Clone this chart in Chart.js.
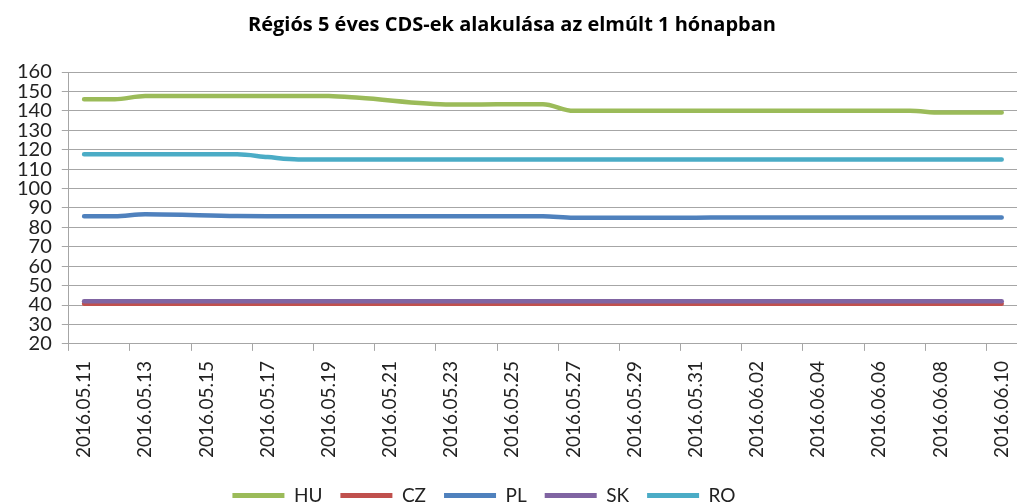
<!DOCTYPE html>
<html>
<head>
<title>Régiós CDS</title>
<script src="https://cdn.jsdelivr.net/npm/chart.js@4.4.0/dist/chart.umd.min.js"></script>
<style>
  html, body { margin: 0; padding: 0; background: #fff; }
  #wrap { width: 1017px; height: 504px; position: relative; }
</style>
</head>
<body>
<div id="wrap"><canvas id="myChart"></canvas></div>
<script>
// daily dates, weekends left empty (null) so the line spans them
var dates = ['2016.05.11','2016.05.12','2016.05.13','2016.05.14','2016.05.15','2016.05.16','2016.05.17',
  '2016.05.18','2016.05.19','2016.05.20','2016.05.21','2016.05.22','2016.05.23','2016.05.24','2016.05.25',
  '2016.05.26','2016.05.27','2016.05.28','2016.05.29','2016.05.30','2016.05.31','2016.06.01','2016.06.02',
  '2016.06.03','2016.06.04','2016.06.05','2016.06.06','2016.06.07','2016.06.08','2016.06.09','2016.06.10'];

var hu = [146, 146, 147.6, null, null, 147.6, 147.7, 147.7, 147.6, 146.7, null, null, 143.3, 143.3, 143.4,
  143.4, 140, null, null, 140, 140, 140, 140, 140, null, null, 140, 140, 139.1, 139.1, 139.1];
var cz = [40.7, 40.7, 40.7, null, null, 40.7, 40.7, 40.7, 40.7, 40.7, null, null, 40.7, 40.7, 40.7,
  40.7, 40.7, null, null, 40.7, 40.7, 40.7, 40.7, 40.7, null, null, 40.7, 40.7, 40.7, 40.7, 40.7];
var pl = [85.7, 85.7, 86.7, null, null, 85.8, 85.7, 85.7, 85.7, 85.7, null, null, 85.7, 85.7, 85.7,
  85.7, 85.0, null, null, 85.0, 85.0, 85.1, 85.1, 85.1, null, null, 85.1, 85.1, 85.1, 85.1, 85.1];
var sk = [41.9, 41.9, 41.9, null, null, 41.9, 41.9, 41.9, 41.9, 41.9, null, null, 41.9, 41.9, 41.9,
  41.9, 41.9, null, null, 41.9, 41.9, 41.9, 41.9, 41.9, null, null, 41.9, 41.9, 41.9, 41.9, 41.9];
var ro = [117.6, 117.6, 117.6, null, null, 117.6, 116.2, 115, 115, 115, null, null, 115, 115, 115,
  115, 115, null, null, 115, 115, 115, 115, 115, null, null, 115, 115, 115, 115, 115];

var names = ['HU', 'CZ', 'PL', 'SK', 'RO'];
var colors = ['#9BBB59', '#C0504D', '#4F81BD', '#8064A2', '#4BACC6'];
var series = [hu, cz, pl, sk, ro];

var yMin = 20, yMax = 160, yStep = 10;
var gridGray = '#a6a6a6';
var FONT = 'Lato, "Liberation Sans", sans-serif';

var datasets = series.map(function (d, i) {
  return {
    label: names[i],
    data: d,
    borderColor: colors[i],
    backgroundColor: colors[i],
    borderWidth: 4.5,
    borderCapStyle: 'round',
    borderJoinStyle: 'round',
    pointRadius: 0,
    fill: false,
    spanGaps: true,
    cubicInterpolationMode: 'monotone',
    order: series.length - i   // later series drawn on top, like Excel
  };
});

// legend in the original sits a bit left of centre
var legendShift = {
  id: 'legendShift',
  afterLayout: function (c) {
    c.legend.left -= 28;
    c.legend.right -= 28;
  }
};

var ctx = document.getElementById('myChart').getContext('2d');
var chart = new Chart(ctx, {
  type: 'line',
  data: { labels: dates, datasets: datasets },
  plugins: [legendShift],
  options: {
    responsive: true,
    maintainAspectRatio: false,
    animation: false,
    layout: { padding: { left: 7, right: 0, top: 0, bottom: -11 } },
    plugins: {
      tooltip: { enabled: false },
      title: {
        display: true,
        text: 'Régiós 5 éves CDS-ek alakulása az elmúlt 1 hónapban',
        color: '#000',
        font: { family: '"Open Sans", Lato, sans-serif', size: 20, weight: 'bold' },
        padding: { top: 13, bottom: 35 }
      },
      legend: {
        position: 'bottom',
        labels: {
          color: '#222',
          font: { family: FONT, size: 19 },
          boxWidth: 52,
          boxHeight: 5,
          padding: 18,
          sort: function (a, b) { return a.datasetIndex - b.datasetIndex; },
          generateLabels: function (c) {
            var items = Chart.defaults.plugins.legend.labels.generateLabels(c);
            items.forEach(function (it) {
              it.fillStyle = colors[it.datasetIndex];
              it.lineWidth = 0;
              it.strokeStyle = 'transparent';
            });
            return items;
          }
        }
      }
    },
    scales: {
      x: {
        offset: true,
        afterFit: function (s) { s.paddingRight = 0; },
        grid: {
          display: true,
          drawOnChartArea: false,
          offset: true,
          tickLength: 7,
          tickColor: function (c) { return c.index % 2 === 0 ? gridGray : 'rgba(0,0,0,0)'; }
        },
        border: { display: true, color: gridGray },
        ticks: {
          autoSkip: false,
          minRotation: 90,
          maxRotation: 90,
          padding: 10,
          color: '#222',
          font: { family: FONT, size: 19 },
          callback: function (v, i) { return i % 2 === 0 ? dates[i] : ''; }
        }
      },
      y: {
        min: yMin,
        max: yMax,
        grid: { color: gridGray, lineWidth: 1, tickLength: 7 },
        border: { display: true, color: gridGray },
        ticks: {
          stepSize: yStep,
          autoSkip: false,
          padding: 10,
          color: '#222',
          font: { family: FONT, size: 20 }
        }
      }
    }
  }
});
</script>
</body>
</html>
